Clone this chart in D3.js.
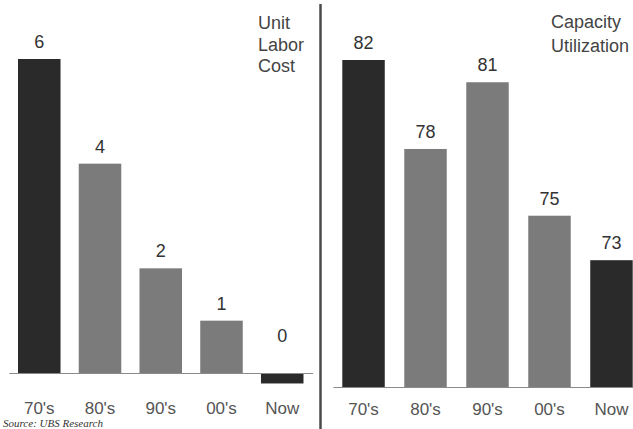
<!DOCTYPE html>
<html>
<head>
<meta charset="utf-8">
<script src="https://cdn.jsdelivr.net/npm/d3@7"></script>
<style>
  html, body { margin: 0; padding: 0; background: #fff; }
  svg { display: block; }
</style>
</head>
<body>
<svg id="chart" width="633" height="429"></svg>
<script>
// Decades shown in both panels
const categories = ["70's", "80's", "90's", "00's", "Now"];

// Unit labor cost growth (%), the latest reading sits just below zero
const laborCost = [6, 4, 2, 1, -0.2];

// Capacity utilization (%)
const capacityUtil = [82, 78, 81, 75, 73];

// Which bars are emphasised in the dark tone
const darkBars = ["70's", "Now"];

const titleLeft = ["Unit", "Labor", "Cost"];
const titleRight = ["Capacity", "Utilization"];
const sourceNote = "Source: UBS Research";

const FONT = "'Liberation Sans', Arial, sans-serif";
const DARK = "#2a2a2a";
const GRAY = "#7b7b7b";

const svg = d3.select("#chart");

function fmt(v) { return String(Math.round(v)); }

function panel(opts) {
  const g = svg.append("g");
  const x = d3.scaleBand()
    .domain(categories)
    .range(opts.xRange)
    .paddingInner(opts.padInner)
    .paddingOuter(0.15);
  const y = d3.scaleLinear()
    .domain(opts.yDomain)
    .range(opts.yRange);

  const data = categories.map((c, i) => ({ c, v: opts.values[i] }));

  g.selectAll("rect.bar")
    .data(data)
    .join("rect")
    .attr("class", "bar")
    .attr("x", d => x(d.c))
    .attr("width", x.bandwidth())
    .attr("y", d => Math.min(y(d.v), y(opts.base)))
    .attr("height", d => Math.abs(y(d.v) - y(opts.base)))
    .attr("fill", d => darkBars.includes(d.c) ? DARK : GRAY);

  // baseline and category labels
  const axis = g.append("g")
    .attr("transform", `translate(0,${y(opts.base)})`)
    .call(d3.axisBottom(x).tickSize(0).tickPadding(opts.tickPad));
  axis.select(".domain").attr("stroke", "#8a8a8a").attr("stroke-width", 1.2);
  axis.selectAll("text")
    .attr("font-family", FONT)
    .attr("font-size", 17)
    .attr("fill", "#555");

  // value labels above each bar
  g.selectAll("text.val")
    .data(data)
    .join("text")
    .attr("class", "val")
    .attr("x", d => x(d.c) + x.bandwidth() / 2)
    .attr("y", d => d.v > opts.base
      ? y(d.v) - opts.labelGap
      : y(opts.base) - 31)
    .attr("text-anchor", "middle")
    .attr("font-family", FONT)
    .attr("font-size", 18)
    .attr("fill", "#333")
    .text(d => fmt(d.v));

  // panel title
  g.append("text")
    .attr("font-family", FONT)
    .attr("font-size", 18)
    .attr("fill", "#444")
    .selectAll("tspan")
    .data(opts.title)
    .join("tspan")
    .attr("x", opts.titleX)
    .attr("y", (d, i) => opts.titleY + i * opts.titleStep)
    .text(d => d);
}

panel({
  values: laborCost,
  xRange: [8.9, 312.6],
  padInner: 0.3,
  yDomain: [0, 6],
  yRange: [373, 59],
  base: 0,
  tickPad: 29,
  labelGap: 11,
  title: titleLeft,
  titleX: 258,
  titleY: 29,
  titleStep: 21.5
});

panel({
  values: capacityUtil,
  xRange: [333, 642],
  padInner: 0.315,
  yDomain: [67.3, 82],
  yRange: [387, 60],
  base: 67.3,
  tickPad: 16,
  labelGap: 11,
  title: titleRight,
  titleX: 551,
  titleY: 28,
  titleStep: 23.5
});

// divider between the two panels
svg.append("line")
  .attr("x1", 320.5).attr("x2", 320.5)
  .attr("y1", 4).attr("y2", 429)
  .attr("stroke", "#4a4a4a")
  .attr("stroke-width", 2.5);

// source note along the bottom edge
svg.append("text")
  .attr("x", 3)
  .attr("y", 427)
  .attr("font-family", "'Liberation Serif', 'Times New Roman', serif")
  .attr("font-style", "italic")
  .attr("font-size", 11)
  .attr("fill", "#333")
  .text(sourceNote);
</script>
</body>
</html>
